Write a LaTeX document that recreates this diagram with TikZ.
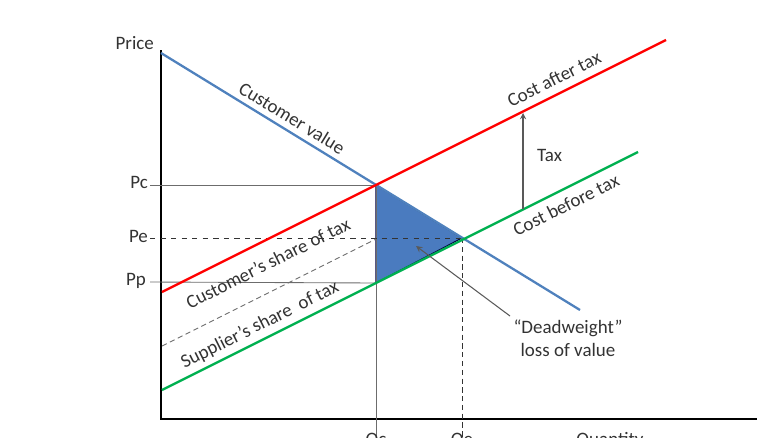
\documentclass[tikz,border=0pt]{standalone}
\usepackage{fontspec}
\setmainfont{Carlito}
\usetikzlibrary{arrows}
\definecolor{cvblue}{HTML}{4F81BD}
\definecolor{dwfill}{HTML}{4A7BBF}
\definecolor{costred}{HTML}{FF0000}
\definecolor{costgreen}{HTML}{00B050}
\definecolor{txtgray}{HTML}{333333}
\tikzstyle{lbl}=[text=txtgray,font=\fontsize{10.8}{13}\selectfont,inner sep=1pt]
\tikzstyle{uplbl}=[lbl,rotate=26.57]
\tikzstyle{downlbl}=[lbl,rotate=-31.5]
\tikzstyle{axis}=[line width=1.6pt,black]
\tikzstyle{guide}=[gray!85!black,line width=0.5pt]
\tikzstyle{curve}=[line width=1.3pt]
\tikzstyle{pointer}=[->,>=stealth,gray!70!black,line width=0.6pt]

\begin{document}
\begin{tikzpicture}[x=0.02cm,y=-0.02cm]
\useasboundingbox (0,0) rectangle (777,437);
% axes
\coordinate (O) at (161,419);
\coordinate (Ytop) at (161,50);
\coordinate (Xend) at (757,419);
\draw[axis](Ytop)--(O)--(Xend);
\node[lbl,anchor=east] (price) at (156,43) {Price};
% points on the curves
\coordinate (CV0) at (161,53);
\coordinate (CV1) at (580,310);
\coordinate (CA0) at (162,292);
\coordinate (CA1) at (666,40);
\coordinate (CB0) at (162,390);
\coordinate (CB1) at (638,152);
\coordinate (SH0) at (162,346);
\coordinate (SH1) at (376,239);
\coordinate (C) at (376,185);
\coordinate (E) at (462,238);
\coordinate (P) at (376,283);
\coordinate (Pc) at (150,185);
\coordinate (Pe) at (150,238);
\coordinate (Pp) at (150,282);
\coordinate (Qc) at (376,437);
\coordinate (Qe) at (462,437);
% deadweight triangle
\fill[dwfill,draw=black!75!blue,line width=0.6pt](C)--(E)--(P)--cycle;
% guides
\draw[guide](Pc)--(C);\draw[guide](Pp)--(P);\draw[guide](C)--(Qc);
\draw[guide,dashed,black!80](Pe)--(E);
\draw[guide,densely dashed,black!80](E)--(Qe);
\draw[guide,densely dashed](SH0)--(SH1);
\node[lbl,anchor=base east] (pc) at (150,188) {Pc};
\node[lbl,anchor=base east] (pe) at (150,242) {Pe};
\node[lbl,anchor=base east] (pp) at (148,285) {Pp};
% curves
\draw[curve,cvblue](CV0)--(CV1);
\draw[curve,costred](CA0)--(CA1);
\draw[curve,costgreen](CB0)--(CB1);
\node[downlbl] (cvlbl) at (292,118) {Customer value};
\node[uplbl] (calbl) at (554,79) {Cost after tax};
\node[uplbl] (cslbl) at (268,263) {Customer’s share of tax};
\node[uplbl] (cblbl) at (566,205) {Cost before tax};
\node[uplbl] (sslbl) at (260,325) {Supplier’s share~ of tax};
% tax arrow
\coordinate (T0) at (523,209);
\coordinate (T1) at (523,113);
\draw[pointer](T0)--(T1);
\node[lbl,anchor=west] (tax) at (535,155) {Tax};
% deadweight label
\node[lbl,align=center] (dw) at (568,338) {“Deadweight”\\loss of value};
\coordinate (dwfoot) at (510,316);
\coordinate (dwtip) at (416,246);
\draw[pointer](dwfoot)--(dwtip);
% quantity labels (cut by the page edge)
\node[lbl,anchor=base] (qc) at (376,445) {Qc};
\node[lbl,anchor=base] (qe) at (462,445) {Qe};
\node[lbl,anchor=base] (qty) at (610,445) {Quantity};
\end{tikzpicture}
\end{document}
